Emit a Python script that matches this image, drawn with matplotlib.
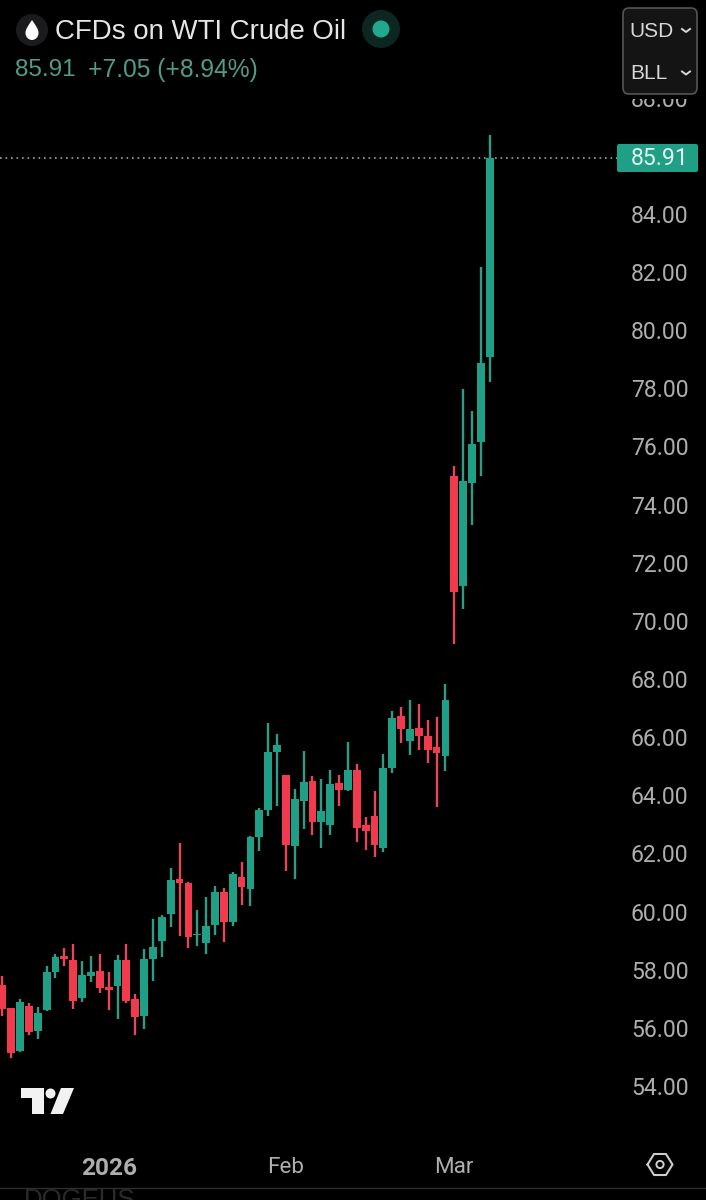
import numpy as np
import matplotlib
matplotlib.use("Agg")
import matplotlib.pyplot as plt
from matplotlib.patches import Rectangle, Circle, FancyBboxPatch, Polygon, PathPatch
from matplotlib.path import Path

opens = [57.49,56.69,55.21,56.76,55.88,56.60,57.92,58.47,58.35,57.03,57.78,57.96,57.41,57.45,58.33,57.00,56.41,58.38,58.99,59.93,
         61.11,60.99,59.18,58.92,59.55,60.68,59.64,61.20,60.78,62.58,63.49,65.50,64.71,62.27,63.80,64.49,63.08,62.97,64.42,64.18,
         64.87,62.98,63.30,62.19,64.95,66.72,65.88,66.30,66.05,65.65,65.35,74.98,71.21,74.73,76.14,79.09]
highs = [57.78,56.69,56.98,56.84,56.71,58.13,58.54,58.76,58.87,58.29,58.47,58.55,57.93,58.49,58.87,57.15,58.72,59.75,59.89,61.49,
         62.35,61.02,60.04,60.50,60.88,60.82,61.35,61.72,62.60,63.55,66.47,66.10,64.71,64.21,65.54,64.65,64.56,64.86,64.71,65.83,
         65.09,63.25,64.15,65.43,66.90,67.03,67.28,67.14,66.59,66.71,67.83,75.34,77.98,77.23,82.18,86.71]
lows = [56.41,54.97,55.17,55.74,55.62,56.58,57.73,58.13,56.65,56.90,57.59,57.21,56.60,56.29,56.84,55.75,55.96,57.60,58.45,59.46,
        59.17,58.74,58.81,58.53,59.21,58.95,59.51,60.23,60.19,62.07,63.30,63.64,61.38,61.11,62.85,62.63,62.20,62.62,63.64,64.16,
        62.38,62.13,61.88,62.05,64.77,65.81,65.38,65.56,65.12,63.61,64.85,69.20,70.41,73.29,74.98,78.23]
closes = [56.65,55.15,56.89,55.85,56.52,57.92,58.45,58.37,56.91,57.81,57.92,57.38,57.30,58.33,56.93,56.36,58.38,58.77,59.81,61.08,
          61.00,59.13,59.23,59.50,60.66,59.65,61.29,60.84,62.55,63.49,65.49,65.73,62.30,63.87,64.45,63.08,63.47,64.40,64.17,64.87,
          62.89,62.78,62.29,64.94,66.66,66.28,66.27,66.05,65.55,65.44,67.28,71.00,74.81,76.10,78.87,85.91]
price_ticks = [88, 84, 82, 80, 78, 76, 74, 72, 70, 68, 66, 64, 62, 60, 58, 56, 54]
month_pos = [12, 32, 51]
month_labels = ["2026", "Feb", "Mar"]
last_price = 85.91

GREEN = "#1f9f86"; RED = "#f23a4e"; GREEN_W = "#2f9c87"; RED_W = "#e8475a"
AX = "#aeaeae"
W, H = 706, 1200
fig = plt.figure(figsize=(W/100, H/100), dpi=100, facecolor="black")

# chart axes: pixel box x 0..617, y 80..1140
ax = fig.add_axes([0, (H-1140)/H, 617/W, 1060/H], facecolor="black")
pxu = 29.07; pxc = 8.862
ax.set_ylim(54-(1140-1086)/pxu, 54+(1086-80)/pxu)
ax.set_xlim(-2.3/pxc, (617-2.3)/pxc)
for s in ax.spines.values():
    s.set_visible(False)

x = np.arange(len(opens))
o, h, l, c = map(np.array, (opens, highs, lows, closes))
up = c >= o
ax.vlines(x, l, h, colors=[GREEN_W if u else RED_W for u in up], lw=1.7, zorder=2)
ax.bar(x, np.abs(c-o), bottom=np.minimum(o, c), width=0.88,
       color=[GREEN if u else RED for u in up], linewidth=0, zorder=3)
ax.axhline(last_price, color="#8fc0b5", lw=1.1, ls=(0, (1.1, 2.5)), zorder=1)

ax.set_yticks(price_ticks)
ax.set_yticklabels([f"{v:.2f}" for v in price_ticks])
ax.yaxis.tick_right()
ax.tick_params(axis="y", length=0, pad=10, labelcolor=AX, labelsize=16.6)
ax.set_xticks(month_pos)
ax.set_xticklabels(month_labels)
ax.tick_params(axis="x", length=0, pad=12, labelcolor=AX, labelsize=16.2)
for t in ax.get_yticklabels() + ax.get_xticklabels():
    t.set_family("Roboto")
ax.get_xticklabels()[0].set_fontweight("bold")
ax.get_xticklabels()[0].set_fontsize(17.6)

# overlay in image pixels for the app chrome
ov = fig.add_axes([0, 0, 1, 1], zorder=5, facecolor="none")
ov.set_xlim(0, W); ov.set_ylim(H, 0); ov.axis("off")

ov.add_patch(Rectangle((0, 0), W, 99, fc="black", ec="none"))
# drop icon
ov.add_patch(Circle((32, 30), 16, fc="#1b1b1e", ec="none"))
drop = Path([(32, 20), (28, 26), (25.5, 29), (25.5, 33), (25.5, 37), (28.5, 40), (32, 40), (35.5, 40), (38.5, 37), (38.5, 33), (38.5, 29), (36, 26), (32, 20)],
            [Path.MOVETO] + [Path.CURVE4]*12)
ov.add_patch(PathPatch(drop, fc="white", ec="none"))
ov.text(55, 32, "CFDs on WTI Crude Oil", family="Liberation Sans", fontsize=19.9, color="#e6e6e6", va="center", ha="left")
ov.add_patch(Circle((381, 29), 19, fc="#0c2622", ec="none"))
ov.add_patch(Circle((381, 29), 8.5, fc="#22a88c", ec="none"))
ov.text(15, 70.5, "85.91", family="Liberation Sans", fontsize=17.5, color="#4f9c88", va="center", ha="left")
ov.text(88, 70.5, "+7.05 (+8.94%)", family="Liberation Sans", fontsize=17.7, color="#4f9c88", va="center", ha="left")

# selector box
ov.add_patch(FancyBboxPatch((626, 11), 68, 80, boxstyle="round,pad=3,rounding_size=6", fc="#141414", ec="#555555", lw=1.2))
ov.text(629, 31.5, "USD", family="Liberation Sans", fontsize=15, color="#d8d8d8", va="center", ha="left")
ov.text(630, 73.5, "BLL", family="Liberation Sans", fontsize=15, color="#d8d8d8", va="center", ha="left")
for cy in (30.5, 73):
    ov.plot([682, 686, 690], [cy-1.5, cy+1.5, cy-1.5], color="#d8d8d8", lw=1.4)

# last price tag
ov.add_patch(FancyBboxPatch((618, 145), 79, 26, boxstyle="round,pad=1,rounding_size=2", fc=GREEN, ec="none"))
ov.text(659.5, 158.5, f"{last_price:.2f}", family="Roboto", fontsize=16.6, color="#e6f2ef", va="center", ha="center")

# logo
LOGO = "#f2f2f2"
ov.add_patch(Polygon([(21, 1088), (43.7, 1088), (43.7, 1114), (31.5, 1114), (31.5, 1098), (21, 1098)], fc=LOGO, ec="none"))
ov.add_patch(Circle((50.5, 1093.5), 5, fc=LOGO, ec="none"))
ov.add_patch(Polygon([(61, 1088), (74, 1088), (63, 1114), (50.5, 1114)], fc=LOGO, ec="none"))

# settings icon
hx = [647.5, 654, 666, 672.5, 666, 654, 647.5]
hy = [1164.5, 1154, 1154, 1164.5, 1175, 1175, 1164.5]
ov.plot(hx, hy, color="#cccccc", lw=1.5)
ov.add_patch(Circle((660, 1164.5), 3.6, fc="none", ec="#cccccc", lw=1.4))

# bottom ghost text and rule
ov.plot([0, W], [1188, 1188], color="#2e2e2e", lw=1)
ov.text(24, 1188, "DOGEUS", family="Liberation Sans", fontsize=18.5, color="#2a2a2a", va="top", ha="left", clip_on=True)

fig.savefig("out.png", dpi=100, facecolor="black")
